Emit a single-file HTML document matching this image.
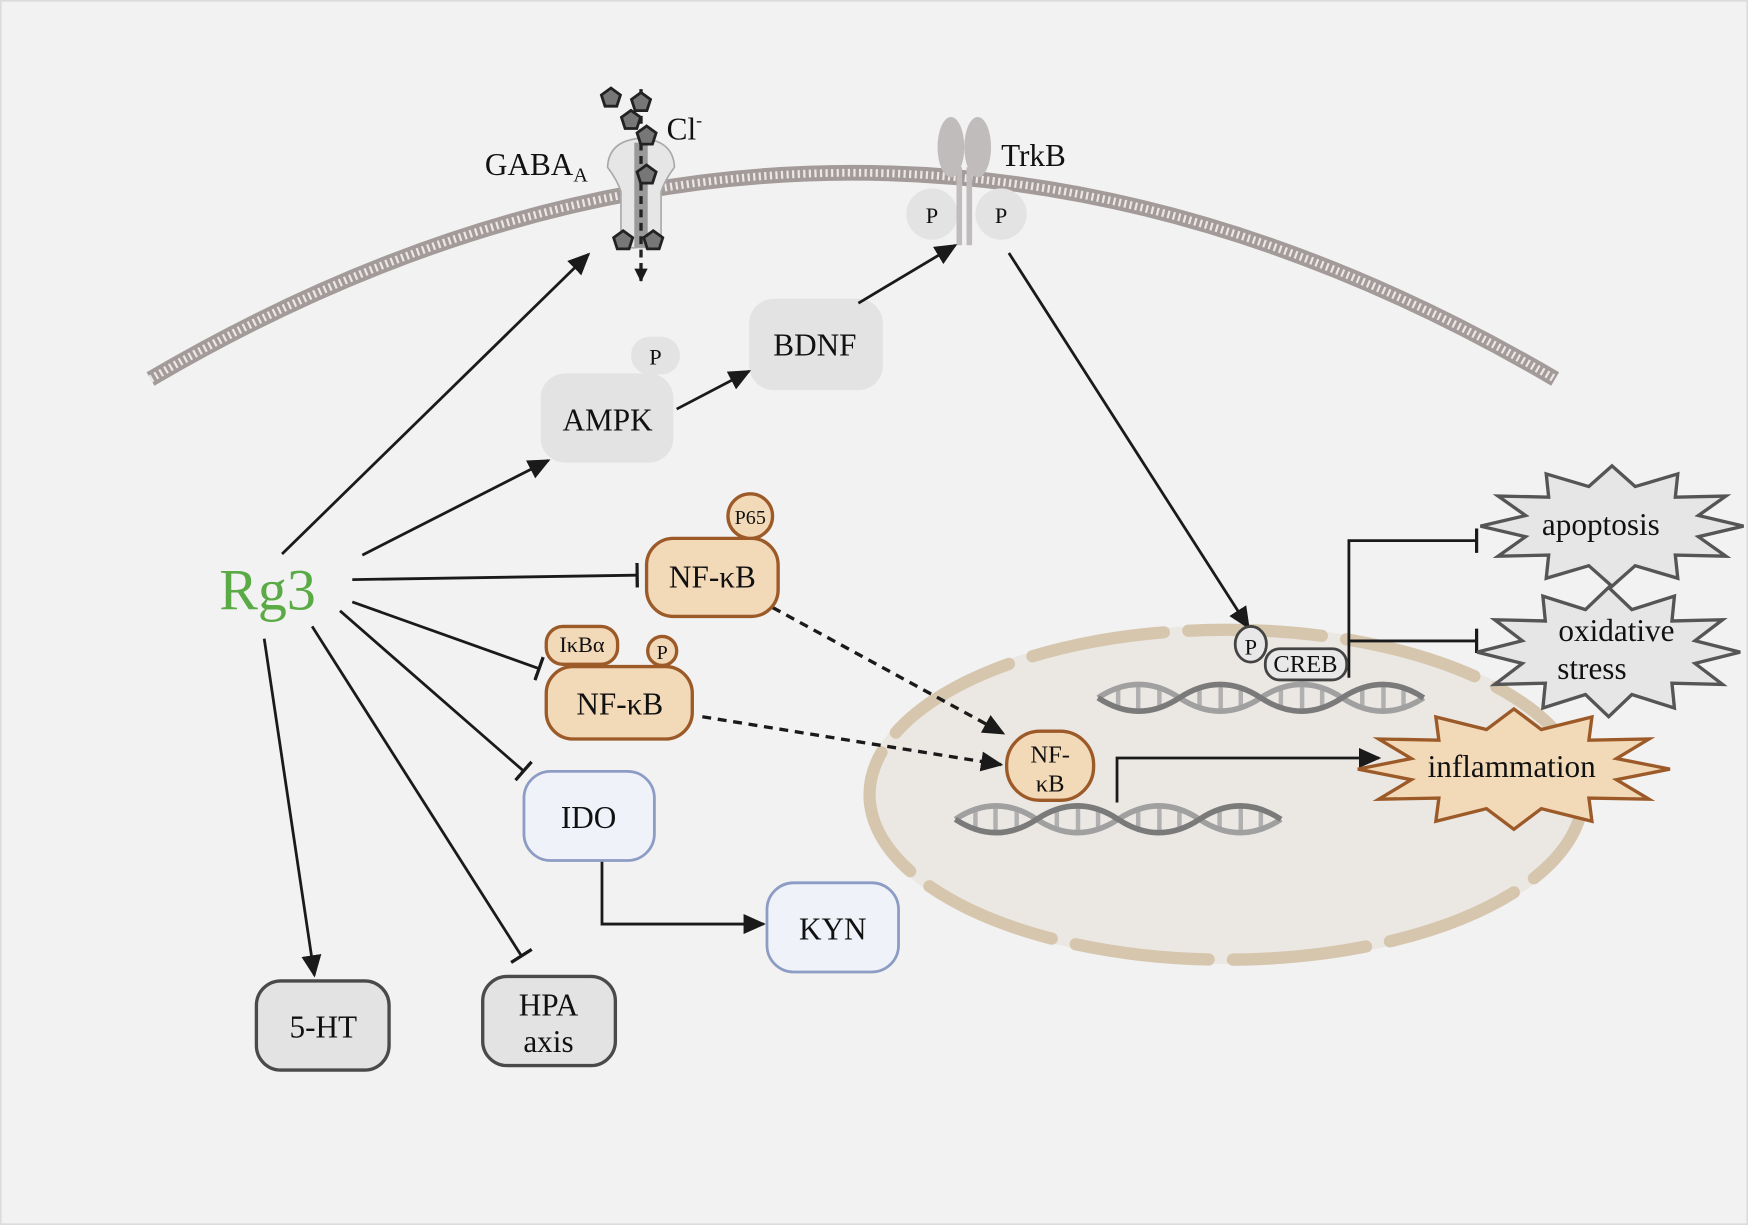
<!DOCTYPE html>
<html><head><meta charset="utf-8"><style>
html,body{margin:0;padding:0;background:#fff}
svg{display:block}
text{font-family:"Liberation Serif",serif;fill:#111}
</style></head><body>
<svg width="1748" height="1225" viewBox="0 0 1568 1099" preserveAspectRatio="none" xmlns="http://www.w3.org/2000/svg" xmlns:xlink="http://www.w3.org/1999/xlink">
<defs>
<marker id="arb" markerWidth="20" markerHeight="18" refX="18" refY="9" orient="auto" markerUnits="userSpaceOnUse"><path d="M0,0 L20,9 L0,18 z" fill="#1a1a1a"/></marker>
<marker id="ar" markerWidth="12" markerHeight="12" refX="11" refY="6" orient="auto" markerUnits="userSpaceOnUse"><path d="M0,0 L12,6 L0,12 z" fill="#1a1a1a"/></marker>
<marker id="tb" markerWidth="4" markerHeight="22" refX="2" refY="11" orient="auto" markerUnits="userSpaceOnUse"><rect x="0" y="0" width="3" height="22" fill="#1a1a1a"/></marker>
<polygon id="pg" points="0,-9 8.56,-2.78 5.29,7.28 -5.29,7.28 -8.56,-2.78" fill="#777" stroke="#222" stroke-width="2.5"/>
<g id="dnaG">
<g stroke="#b0b0b0" stroke-width="4">
<line x1="18" y1="-9" x2="18" y2="9"/><line x1="36" y1="-11" x2="36" y2="11"/><line x1="55" y1="-9" x2="55" y2="9"/>
<line x1="91" y1="-9" x2="91" y2="9"/><line x1="110" y1="-11" x2="110" y2="11"/><line x1="128" y1="-9" x2="128" y2="9"/>
<line x1="164" y1="-9" x2="164" y2="9"/><line x1="183" y1="-11" x2="183" y2="11"/><line x1="201" y1="-9" x2="201" y2="9"/>
<line x1="237" y1="-9" x2="237" y2="9"/><line x1="256" y1="-11" x2="256" y2="11"/><line x1="274" y1="-9" x2="274" y2="9"/>
</g>
<path d="M0,0 Q36.5,-24 73,0 T146,0 T219,0 T292,0" fill="none" stroke="#a0a0a0" stroke-width="5"/>
<path d="M0,0 Q36.5,24 73,0 T146,0 T219,0 T292,0" fill="none" stroke="#7a7a7a" stroke-width="5"/>
</g>
</defs>
<rect x="0" y="0" width="1568" height="1099" fill="#f2f2f2" stroke="#dcdcdc" stroke-width="3"/>
<!-- membrane -->
<path d="M135,340 Q765,-30 1395,340" fill="none" stroke="#a39a9a" stroke-width="14"/>
<path d="M135,340 Q765,-30 1395,340" fill="none" stroke="#ece6e6" stroke-width="7" stroke-dasharray="2 3"/>
<!-- nucleus -->
<ellipse cx="1100" cy="713" rx="325" ry="152" fill="#ebe7e2"/>
<ellipse cx="1100" cy="713" rx="320" ry="148" fill="none" stroke="#d6c6ad" stroke-width="11" stroke-linecap="round" stroke-dasharray="120 22" stroke-dashoffset="30"/>
<use xlink:href="#dnaG" href="#dnaG" transform="translate(857,735)"/>
<use xlink:href="#dnaG" href="#dnaG" transform="translate(985,626)"/>
<!-- GABA channel -->
<path d="M545,150 Q546,126 575,124 Q604,126 605,150 Q596,162 593,172 L593,215 Q590,224 578,222 L572,222 Q560,224 557,215 L557,172 Q554,162 545,150z" fill="#e6e6e6" stroke="#aaa" stroke-width="1.5"/>
<rect x="569" y="128" width="12" height="94" fill="#9a9a9a"/>
<line x1="575" y1="80" x2="575" y2="252" stroke="#222" stroke-width="3" stroke-dasharray="7 5" marker-end="url(#ar)"/>
<use href="#pg" xlink:href="#pg" x="548" y="88"/>
<use href="#pg" xlink:href="#pg" x="575" y="92"/>
<use href="#pg" xlink:href="#pg" x="566" y="108"/>
<use href="#pg" xlink:href="#pg" x="580" y="122"/>
<use href="#pg" xlink:href="#pg" x="580" y="157"/>
<use href="#pg" xlink:href="#pg" x="559" y="216"/>
<use href="#pg" xlink:href="#pg" x="586" y="216"/>
<text x="435" y="157" font-size="28">GABA<tspan font-size="18" dy="6">A</tspan></text>
<text x="598" y="125" font-size="28">Cl<tspan font-size="16" dy="-12">-</tspan></text>
<!-- TrkB -->
<circle cx="836" cy="192" r="23" fill="#e3e3e3"/>
<circle cx="898" cy="192" r="23" fill="#e3e3e3"/>
<ellipse cx="853" cy="132" rx="12" ry="27" fill="#c0bcbc"/>
<ellipse cx="877" cy="132" rx="12" ry="27" fill="#c0bcbc"/>
<rect x="858" y="150" width="5" height="70" fill="#c0bcbc"/>
<rect x="867" y="150" width="5" height="70" fill="#c0bcbc"/>
<text x="836" y="200" font-size="20" text-anchor="middle">P</text>
<text x="898" y="200" font-size="20" text-anchor="middle">P</text>
<text x="898" y="149" font-size="28">TrkB</text>
<!-- AMPK / BDNF -->
<rect x="566" y="302" width="44" height="34" rx="17" fill="#e3e3e3"/>
<text x="588" y="327" font-size="20" text-anchor="middle">P</text>
<rect x="485" y="335" width="119" height="80" rx="22" fill="#e3e3e3"/>
<text x="545" y="386" font-size="28" text-anchor="middle">AMPK</text>
<rect x="672" y="268" width="120" height="82" rx="22" fill="#e3e3e3"/>
<text x="731" y="319" font-size="28" text-anchor="middle">BDNF</text>
<!-- arrows -->
<g stroke="#1a1a1a" stroke-width="2.5" fill="none">
<line x1="607" y1="367" x2="672" y2="333" marker-end="url(#arb)"/>
<line x1="770" y1="272" x2="857" y2="220" marker-end="url(#arb)"/>
<line x1="253" y1="497" x2="528" y2="228" marker-end="url(#arb)"/>
<line x1="325" y1="498" x2="492" y2="413" marker-end="url(#arb)"/>
<line x1="316" y1="520" x2="572" y2="516" marker-end="url(#tb)"/>
<line x1="316" y1="540" x2="484" y2="600" marker-end="url(#tb)"/>
<line x1="305" y1="548" x2="470" y2="692" marker-end="url(#tb)"/>
<line x1="280" y1="562" x2="468" y2="858" marker-end="url(#tb)"/>
<line x1="237" y1="573" x2="282" y2="875" marker-end="url(#arb)"/>
<line x1="905" y1="227" x2="1120" y2="563" marker-end="url(#arb)"/>
<polyline points="540,772 540,829 685,829" marker-end="url(#arb)"/>
<polyline points="1210,608 1210,485 1325,485" marker-end="url(#tb)"/>
<line x1="1210" y1="575" x2="1325" y2="575" marker-end="url(#tb)"/>
<polyline points="1002,720 1002,680 1237,680" marker-end="url(#arb)"/>
<line x1="693" y1="545" x2="900" y2="658" stroke-dasharray="8 6" stroke-width="3" marker-end="url(#arb)"/>
<line x1="630" y1="643" x2="898" y2="686" stroke-dasharray="8 6" stroke-width="3" marker-end="url(#arb)"/>
</g>
<text x="240" y="547" font-size="52" text-anchor="middle" style="fill:#5aaa46">Rg3</text>
<!-- NF-kB boxes -->
<g fill="#f2d9b8" stroke="#9c5a28" stroke-width="3">
<rect x="580" y="483" width="118" height="70" rx="24"/>
<circle cx="673" cy="463" r="20"/>
<rect x="490" y="598" width="131" height="65" rx="24"/>
<rect x="490" y="562" width="64" height="34" rx="15"/>
<circle cx="594" cy="584" r="13"/>
<rect x="903" y="656" width="78" height="62" rx="30"/>
</g>
<text x="639" y="527" font-size="28" text-anchor="middle">NF-κB</text>
<text x="673" y="470" font-size="18" text-anchor="middle">P65</text>
<text x="556" y="641" font-size="28" text-anchor="middle">NF-κB</text>
<text x="522" y="585" font-size="20" text-anchor="middle">IκBα</text>
<text x="594" y="591" font-size="18" text-anchor="middle">P</text>
<text x="942" y="684" font-size="22" text-anchor="middle">NF-</text>
<text x="942" y="710" font-size="22" text-anchor="middle">κB</text>
<!-- IDO/KYN -->
<g fill="#eff3f9" stroke="#8d9cc4" stroke-width="2.5">
<rect x="470" y="692" width="117" height="80" rx="24"/>
<rect x="688" y="792" width="118" height="80" rx="24"/>
</g>
<text x="528" y="743" font-size="28" text-anchor="middle">IDO</text>
<text x="747" y="843" font-size="28" text-anchor="middle">KYN</text>
<!-- 5-HT / HPA -->
<g fill="#e3e3e3" stroke="#4a4a4a" stroke-width="3">
<rect x="230" y="880" width="119" height="80" rx="22"/>
<rect x="433" y="876" width="119" height="80" rx="22"/>
</g>
<text x="290" y="931" font-size="28" text-anchor="middle">5-HT</text>
<text x="492" y="911" font-size="28" text-anchor="middle">HPA</text>
<text x="492" y="944" font-size="28" text-anchor="middle">axis</text>
<!-- CREB -->
<rect x="1135" y="582" width="73" height="28" rx="13" fill="#e8e8e8" stroke="#444" stroke-width="2.5"/>
<ellipse cx="1122" cy="578" rx="14" ry="16" fill="#e8e8e8" stroke="#444" stroke-width="2.5"/>
<text x="1122" y="587" font-size="20" text-anchor="middle">P</text>
<text x="1171" y="603" font-size="22" text-anchor="middle">CREB</text>
<!-- stars -->
<polygon fill="#e6e6e6" stroke="#555" stroke-width="3" points="1564,472 1523.5,481.5 1548.2,499 1502.8,498 1505,518.8 1466.8,507.5 1446,526 1425.2,507.5 1387,518.8 1389.2,498 1343.8,499 1368.5,481.5 1328,472 1368.5,462.5 1343.8,445 1389.2,446 1387,425.2 1425.2,436.5 1446,418 1466.8,436.5 1505,425.2 1502.8,446 1548.2,445 1523.5,462.5"/>
<polygon fill="#e6e6e6" stroke="#555" stroke-width="3" points="1561,585 1520.5,595.2 1545.2,614 1499.8,612.9 1502,635.2 1463.8,623.1 1443,643 1422.2,623.1 1384,635.2 1386.2,612.9 1340.8,614 1365.5,595.2 1325,585 1365.5,574.8 1340.8,556 1386.2,557.1 1384,534.8 1422.2,546.9 1443,527 1463.8,546.9 1502,534.8 1499.8,557.1 1545.2,556 1520.5,574.8"/>
<polygon fill="#f2d9b8" stroke="#9c5a28" stroke-width="3" points="1498,690 1450,699.5 1479.2,717 1425.3,716 1428,736.8 1382.6,725.5 1358,744 1333.4,725.5 1288,736.8 1290.7,716 1236.8,717 1266,699.5 1218,690 1266,680.5 1236.8,663 1290.7,664 1288,643.2 1333.4,654.5 1358,636 1382.6,654.5 1428,643.2 1425.3,664 1479.2,663 1450,680.5"/>
<text x="1436" y="480" font-size="28" text-anchor="middle">apoptosis</text>
<text x="1450" y="575" font-size="28" text-anchor="middle">oxidative</text>
<text x="1428" y="609" font-size="28" text-anchor="middle">stress</text>
<text x="1356" y="697" font-size="28" text-anchor="middle">inflammation</text>
</svg>
</body></html>
